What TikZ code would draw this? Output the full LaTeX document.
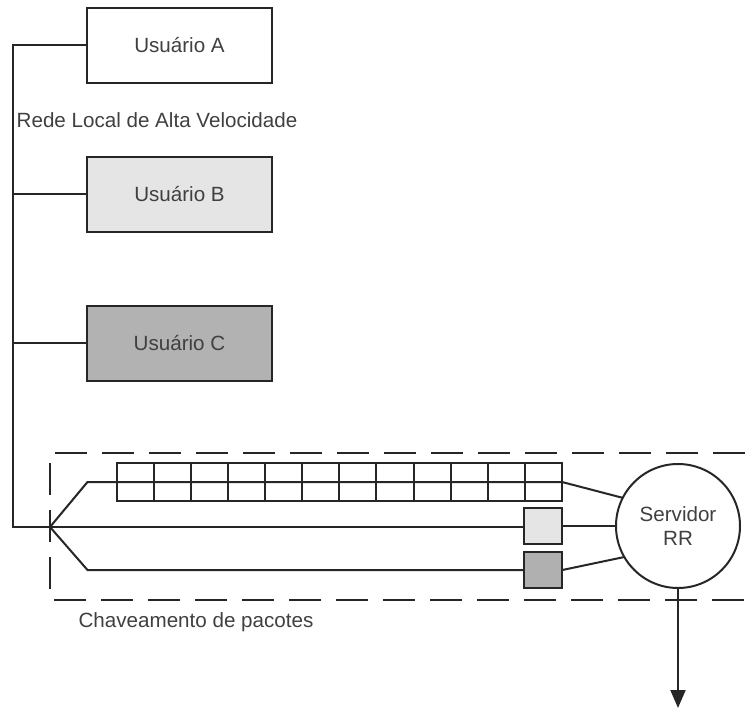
\documentclass[tikz,border=0pt]{standalone}
\usepackage{fontspec}
\setmainfont{Liberation Sans}
\usetikzlibrary{positioning,arrows.meta}

\begin{document}
\begin{tikzpicture}
[
x=0.5pt, y=-0.5pt,
line width=1pt,
color=black!85,
font=\fontsize{10.3pt}{12.4pt}\selectfont,
box-a/.style={rectangle, draw, minimum width=92.5pt, minimum height=37.5pt, outer sep=0pt, text=black!75},
cell-a/.style={rectangle, draw, minimum width=18.55pt, minimum height=19pt, inner sep=0pt, outer sep=0pt},
cell-b/.style={rectangle, draw, minimum width=19pt, minimum height=18pt, inner sep=0pt, outer sep=0pt},
serv-a/.style={circle, draw, minimum size=62pt, inner sep=0pt, outer sep=0pt, align=center, text=black!75},
text-a/.style={text=black!75},
frame-a/.style={dash pattern=on 16pt off 7.5pt}
]
\useasboundingbox (0,0) rectangle (745,711);
\draw [frame-a] (745,453) -- (50,453) -- (50,600) -- (745,600);
\node (user-a)  [box-a]                                    at (179.5,45.5) {Usuário A};
\node (user-b)  [box-a, fill=black!10, below = 37pt of user-a] {Usuário B};
\node (user-c)  [box-a, fill=black!30, below = 37pt of user-b] {Usuário C};
\node (rede)    [text-a]                                   at (157,120)    {Rede Local de Alta Velocidade};
\node (cell-01) [cell-a]                                   at (135.3,482)  {};
\node (cell-02) [cell-a, right = 0pt of cell-01] {};
\node (cell-03) [cell-a, right = 0pt of cell-02] {};
\node (cell-04) [cell-a, right = 0pt of cell-03] {};
\node (cell-05) [cell-a, right = 0pt of cell-04] {};
\node (cell-06) [cell-a, right = 0pt of cell-05] {};
\node (cell-07) [cell-a, right = 0pt of cell-06] {};
\node (cell-08) [cell-a, right = 0pt of cell-07] {};
\node (cell-09) [cell-a, right = 0pt of cell-08] {};
\node (cell-10) [cell-a, right = 0pt of cell-09] {};
\node (cell-11) [cell-a, right = 0pt of cell-10] {};
\node (cell-12) [cell-a, right = 0pt of cell-11] {};
\node (pack-b)  [cell-b, fill=black!10, below = 3.5pt of cell-12] {};
\node (pack-c)  [cell-b, fill=black!31, below = 4pt of pack-b]    {};
\node (serv)    [serv-a]                                   at (678,526)    {Servidor\\RR};
\node (chav)    [text-a]                                   at (196,622)    {Chaveamento de pacotes};
\coordinate (bus-bot)  at (13,527);
\coordinate (fork)     at (50,527);
\coordinate (bend-up)  at (87.5,482);
\coordinate (bend-low) at (87.5,570);
\coordinate (out)      at (678,708);
\draw (user-a.west) -| (bus-bot) -- (bus-bot -| pack-b.west);
\draw (user-b.west) -- (user-b.west -| bus-bot);
\draw (user-c.west) -- (user-c.west -| bus-bot);
\draw (fork) -- (bend-up) -- (cell-12.east) -- (serv.153);
\draw (fork) -- (bend-low) -- (pack-c.west);
\draw (pack-b.east) -- (serv);
\draw (pack-c.east) -- (serv.210);
\draw [-{Triangle[width=7.5pt,length=9pt]}] (serv) -- (out);
\end{tikzpicture}
\end{document}
